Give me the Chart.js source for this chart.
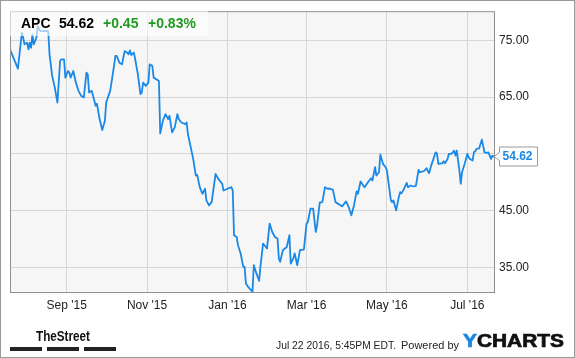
<!DOCTYPE html>
<html><head><meta charset="utf-8">
<script src="https://cdn.jsdelivr.net/npm/chart.js@4"></script>
<style>
html,body{margin:0;padding:0;background:#fff;}
#wrap{position:relative;width:575px;height:358px;overflow:hidden;font-family:"Liberation Sans",Arial,sans-serif;}
canvas{position:absolute;left:0;top:0;}
.t{position:absolute;white-space:nowrap;}
#frame{position:absolute;left:0;top:0;width:573px;height:356px;border:1px solid #9a9a9a;pointer-events:none;}
#hdr{position:absolute;left:10px;top:10px;width:198px;height:26px;background:rgba(255,255,255,0.6);}
.h{position:absolute;top:15px;font-weight:bold;font-size:14px;line-height:16px;}
.bar{position:absolute;top:347px;height:4px;background:#222;}
</style></head>
<body><div id="wrap">
<canvas id="c" width="575" height="358"></canvas>
<div id="hdr"></div>
<span class="t h" id="tk" style="left:21px;color:#000"></span>
<span class="t h" id="px" style="left:59px;color:#000"></span>
<span class="t h" id="ch" style="left:103px;color:#1f9a1f"></span>
<span class="t h" id="pc" style="left:148px;color:#1f9a1f"></span>
<span class="t fit" data-w="54" style="left:36px;top:327px;font-size:15px;line-height:17px;font-weight:bold;color:#111;transform-origin:left">TheStreet</span>
<div class="bar" style="left:10px;width:32px"></div>
<div class="bar" style="left:47px;width:32px"></div>
<div class="bar" style="left:84px;width:32px"></div>
<span class="t fit" data-w="120" style="left:276px;top:339px;font-size:11px;line-height:13px;color:#222;transform-origin:left">Jul 22 2016, 5:45PM EDT.</span>
<span class="t fit" data-w="58" style="left:401px;top:339px;font-size:11px;line-height:13px;color:#222;transform-origin:left">Powered by</span>
<span class="t fit" data-w="101" style="left:463px;top:331px;font-size:18px;line-height:21px;font-weight:bold;color:#111;-webkit-text-stroke:0.7px #111;transform-origin:left"><span style="color:#1a88e0;-webkit-text-stroke:0.7px #1a88e0">Y</span>CHARTS</span>
<div id="frame"></div>
</div>
<script>
const ticker = 'APC';
const lastChange = '+0.45';
const lastChangePct = '+0.83%';

const dates = ['2015-07-20','2015-07-26','2015-07-29','2015-07-30','2015-07-31',
'2015-08-02','2015-08-03','2015-08-04','2015-08-05','2015-08-06','2015-08-07','2015-08-09','2015-08-10','2015-08-12','2015-08-14','2015-08-18','2015-08-19','2015-08-21','2015-08-23','2015-08-25','2015-08-27','2015-08-28','2015-08-30','2015-08-31',
'2015-09-02','2015-09-03','2015-09-04','2015-09-06','2015-09-08','2015-09-10','2015-09-12','2015-09-14','2015-09-16','2015-09-17','2015-09-18','2015-09-20','2015-09-23','2015-09-24','2015-09-26','2015-09-28','2015-09-30',
'2015-10-01','2015-10-04','2015-10-06','2015-10-08','2015-10-09','2015-10-11','2015-10-13','2015-10-15','2015-10-17','2015-10-18','2015-10-19','2015-10-20','2015-10-22','2015-10-23','2015-10-25','2015-10-27','2015-10-28','2015-10-29','2015-10-31',
'2015-11-02','2015-11-03','2015-11-05','2015-11-06','2015-11-08','2015-11-10','2015-11-11','2015-11-13','2015-11-15','2015-11-17','2015-11-18','2015-11-20','2015-11-22','2015-11-24','2015-11-25','2015-11-27','2015-11-30',
'2015-12-01','2015-12-02','2015-12-06','2015-12-08','2015-12-09','2015-12-11','2015-12-13','2015-12-15','2015-12-16','2015-12-18','2015-12-20','2015-12-23','2015-12-25','2015-12-28','2015-12-29',
'2016-01-01','2016-01-04','2016-01-05','2016-01-06','2016-01-08','2016-01-09','2016-01-11','2016-01-13','2016-01-14','2016-01-15','2016-01-17','2016-01-20','2016-01-21','2016-01-23','2016-01-25','2016-01-26','2016-01-28','2016-01-31',
'2016-02-02','2016-02-04','2016-02-06','2016-02-08','2016-02-09','2016-02-10','2016-02-12','2016-02-15','2016-02-17','2016-02-18','2016-02-20','2016-02-21','2016-02-23','2016-02-25','2016-02-28',
'2016-03-01','2016-03-02','2016-03-04','2016-03-06','2016-03-08','2016-03-09','2016-03-11','2016-03-13','2016-03-15','2016-03-17','2016-03-19','2016-03-21','2016-03-23','2016-03-27','2016-03-28','2016-03-31',
'2016-04-02','2016-04-04','2016-04-06','2016-04-08','2016-04-09','2016-04-11','2016-04-13','2016-04-14','2016-04-17','2016-04-19','2016-04-20','2016-04-22','2016-04-23','2016-04-25','2016-04-26','2016-04-28','2016-04-30',
'2016-05-01','2016-05-04','2016-05-05','2016-05-06','2016-05-08','2016-05-10','2016-05-11','2016-05-12','2016-05-14','2016-05-16','2016-05-17','2016-05-19','2016-05-21','2016-05-23','2016-05-25','2016-05-26','2016-05-29','2016-05-31',
'2016-06-02','2016-06-04','2016-06-07','2016-06-08','2016-06-09','2016-06-12','2016-06-13','2016-06-14','2016-06-16','2016-06-17','2016-06-19','2016-06-21','2016-06-22','2016-06-23','2016-06-24','2016-06-25','2016-06-26','2016-06-27','2016-06-29',
'2016-07-01','2016-07-02','2016-07-03','2016-07-05','2016-07-06','2016-07-07','2016-07-08','2016-07-10','2016-07-12','2016-07-13','2016-07-14','2016-07-16','2016-07-17','2016-07-19','2016-07-20','2016-07-21','2016-07-22'];

const prices = [73.42,70.02,76.33,75.46,74.30,74.58,73.42,74.58,73.70,76.05,
74.30,75.46,77.51,76.63,76.63,76.63,72.54,68.74,66.68,64.05,
71.37,71.67,71.67,68.44,69.61,69.32,68.44,69.61,67.56,66.11,
65.23,64.93,69.32,69.04,65.81,66.11,63.47,63.83,61.14,59.21,
60.84,64.05,66.11,69.04,72.25,72.25,71.07,70.79,73.12,72.83,
72.54,73.25,72.42,72.83,71.67,69.04,65.53,65.81,67.56,66.98,
67.56,70.79,70.49,68.44,68.16,67.86,58.61,60.84,62.02,61.14,
61.72,58.79,59.67,62.02,61.14,60.54,60.26,60.54,58.51,54.12,
51.19,51.30,49.14,47.98,48.86,46.81,45.93,46.51,51.49,50.61,
49.74,48.56,48.86,49.14,48.56,40.67,40.37,38.91,37.46,35.11,
35.11,32.19,31.49,30.72,35.40,33.95,32.65,35.11,39.21,38.33,
42.72,41.25,40.37,40.09,36.58,35.98,38.04,38.61,40.67,35.70,
36.63,37.46,35.40,38.04,38.16,42.72,43.00,45.35,45.35,41.25,
42.42,46.40,46.51,49.14,48.86,48.86,48.68,46.51,45.93,45.76,
46.63,45.63,44.18,45.93,48.39,47.98,50.14,49.44,49.14,50.14,
50.72,50.32,52.65,51.19,51.77,54.88,53.25,52.65,52.07,46.81,
46.51,46.81,45.05,47.39,48.26,48.04,48.86,49.91,49.14,49.44,
49.26,49.39,52.19,51.77,51.95,52.47,51.60,53.25,55.28,55.05,
53.25,53.35,53.70,53.35,54.12,55.00,55.00,55.58,54.70,55.58,
53.83,52.07,49.74,51.77,53.25,55.00,54.40,54.12,53.83,55.28,
55.46,55.88,55.98,57.51,56.46,55.28,55.18,55.28,54.12,54.70,
54.53,54.62];

const xTickDates = ['2015-09-01','2015-11-01','2016-01-01','2016-03-01','2016-05-01','2016-07-01'];
const xTickLabels = ["Sep '15","Nov '15","Jan '16","Mar '16","May '16","Jul '16"];
const yTicks = [35,45,55,65,75];
const yTickLabels = ['35.00','45.00','','65.00','75.00'];
const xRange = ['2015-07-20','2016-07-22'];
const yRange = [30.5, 80.14];

function dayNum(s){const p=s.split('-').map(Number);return Date.UTC(p[0],p[1]-1,p[2])/86400000;}

const n = Math.min(dates.length, prices.length);
const pts = [];
for (let i=0;i<n;i++) pts.push({x:dayNum(dates[i]), y:prices[i]});
const lastPrice = prices[n-1];

document.getElementById('tk').textContent = ticker;
document.getElementById('px').textContent = lastPrice.toFixed(2);
document.getElementById('ch').textContent = lastChange;
document.getElementById('pc').textContent = lastChangePct;

document.querySelectorAll('.fit').forEach(el=>{
  const w = el.getBoundingClientRect().width;
  const target = parseFloat(el.dataset.w);
  if (w>0) el.style.transform = 'scaleX('+(target/w)+')';
});

const FONT = '"Liberation Sans", Arial, sans-serif';
const LINE = '#1a88e6';

const deco = {
  id:'deco',
  beforeDraw(chart){
    const {ctx, chartArea:a} = chart;
    ctx.save(); ctx.fillStyle='#f6f6f6';
    ctx.fillRect(a.left,a.top,a.right-a.left,a.bottom-a.top); ctx.restore();
  },
  afterDraw(chart){
    const {ctx, chartArea:a} = chart;
    ctx.save();
    ctx.strokeStyle='#8f8f8f'; ctx.lineWidth=1;
    ctx.strokeRect(a.left+0.5,a.top+0.5,a.right-a.left-1,a.bottom-a.top-1);
    const y = Math.round(chart.scales.y.getPixelForValue(lastPrice))+0.5;
    const bx = a.right+4.5, bw = 38, bh = 19, top = y-9.5;
    ctx.beginPath();
    ctx.moveTo(bx, top); ctx.lineTo(bx+bw, top); ctx.lineTo(bx+bw, top+bh);
    ctx.lineTo(bx, top+bh); ctx.lineTo(bx, y+4); ctx.lineTo(a.right-1, y); ctx.lineTo(bx, y-4); ctx.closePath();
    ctx.fillStyle='#fff'; ctx.fill(); ctx.strokeStyle='#9a9a9a'; ctx.stroke();
    ctx.fillStyle=LINE; ctx.font='bold 12px '+FONT; ctx.textBaseline='middle'; ctx.textAlign='left';
    ctx.fillText(lastPrice.toFixed(2), bx+3, y+0.5);
    ctx.restore();
  }
};

new Chart(document.getElementById('c'), {
  type:'line',
  data:{datasets:[{data:pts, borderColor:LINE, borderWidth:1.8, pointRadius:0, tension:0, fill:false, borderJoinStyle:'round'}]},
  options:{
    responsive:false, animation:false, devicePixelRatio:1,
    layout:{padding:{left:10,top:10,right:0,bottom:0}},
    plugins:{legend:{display:false}, tooltip:{enabled:false}},
    scales:{
      x:{type:'linear', min:dayNum(xRange[0]), max:dayNum(xRange[1]),
         afterFit(s){s.height=65;},
         afterBuildTicks(s){s.ticks = xTickDates.map(d=>({value:dayNum(d)}));},
         ticks:{autoSkip:false, maxRotation:0, padding:5, color:'#222', font:{family:FONT,size:12},
           callback(v){const i=xTickDates.findIndex(d=>dayNum(d)===v);return i>=0?xTickLabels[i]:'';}},
         grid:{color:'#d6d6d6', drawTicks:false, lineWidth:1},
         border:{display:false}},
      y:{position:'right', min:yRange[0], max:yRange[1],
         afterFit(s){s.width=80;},
         afterBuildTicks(s){s.ticks = yTicks.map(v=>({value:v}));},
         ticks:{autoSkip:false, padding:4, color:'#222', font:{family:FONT,size:12},
           callback(v){const i=yTicks.indexOf(v);return i>=0?yTickLabels[i]:'';}},
         grid:{color:'#d6d6d6', drawTicks:false, lineWidth:1},
         border:{display:false}}
    }
  },
  plugins:[deco]
});
</script>
</body></html>
